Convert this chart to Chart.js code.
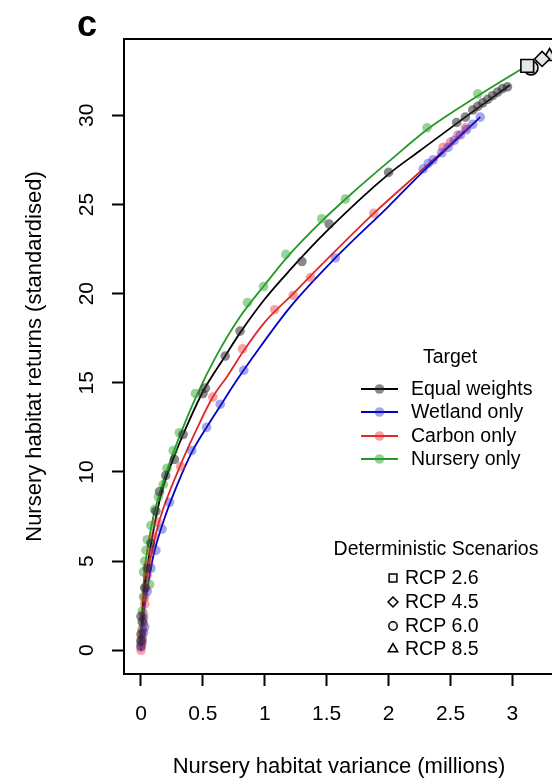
<!DOCTYPE html>
<html>
<head>
<meta charset="utf-8">
<script src="https://cdn.jsdelivr.net/npm/chart.js@4/dist/chart.umd.min.js"></script>
<style>
  html, body { margin: 0; padding: 0; background: #fff; overflow: hidden; }
  #wrap { position: relative; width: 552px; height: 784px; overflow: hidden; }
  #grafico { display: block; }
</style>
</head>
<body>
<div id="wrap"><canvas id="grafico" width="560" height="784"></canvas></div>
<script>
// Fitted curves (variance in millions, standardised returns)
const equalX    = [0, 0.005, 0.015, 0.03, 0.06, 0.1, 0.15, 0.2, 0.27, 0.34, 0.5, 0.68, 0.8, 1.0, 1.2, 1.5, 2.0, 2.25, 2.6, 2.98];
const equalY    = [0, 1.2, 2.4, 3.6, 5.1, 6.7, 8.4, 9.6, 10.9, 12.1, 14.5, 16.5, 17.8, 19.7, 21.3, 23.5, 26.7, 28.0, 29.8, 31.7];
const wetlandX  = [0, 0.005, 0.015, 0.03, 0.06, 0.1, 0.19, 0.3, 0.41, 0.53, 0.64, 0.76, 0.9, 1.2, 1.57, 2.0, 2.3, 2.74];
const wetlandY  = [0, 0.8, 1.6, 2.5, 3.8, 5.3, 7.4, 9.4, 11.1, 12.5, 13.7, 15.0, 16.4, 19.2, 22.0, 24.9, 27.0, 29.9];
const carbonX   = [0, 0.005, 0.015, 0.03, 0.06, 0.1, 0.15, 0.32, 0.45, 0.58, 0.7, 0.82, 1.0, 1.23, 1.37, 1.88, 2.2, 2.44, 2.66];
const carbonY   = [0, 1.0, 2.0, 3.0, 4.5, 5.9, 7.3, 10.4, 12.4, 14.2, 15.4, 16.7, 18.4, 20.0, 21.0, 24.5, 26.5, 28.0, 29.4];
const nurseryX  = [0, 0.005, 0.015, 0.03, 0.06, 0.1, 0.15, 0.2, 0.3, 0.45, 0.6, 0.8, 1.0, 1.2, 1.45, 1.7, 2.0, 2.33, 2.7, 3.12];
const nurseryY  = [0, 1.5, 3.0, 4.5, 6.0, 7.5, 8.8, 9.9, 11.8, 14.3, 16.4, 18.7, 20.5, 22.2, 24.0, 25.6, 27.4, 29.3, 31.0, 32.8];

// Simulated portfolios per target
const equalPts = [[0.0,0.5],[0.0,0.9],[0.01,1.6],[0.0,1.9],[0.03,3.5],[0.05,4.6],[0.08,6.0],[0.12,7.8],[0.15,8.9],[0.2,9.8],[0.27,10.7],
  [0.34,12.1],[0.5,14.4],[0.52,14.7],[0.68,16.5],[0.8,17.9],[1.3,21.8],[1.52,23.9],[2.0,26.8],[2.55,29.6],[2.62,29.9],[2.68,30.3],
  [2.72,30.5],[2.76,30.7],[2.8,30.9],[2.84,31.1],[2.88,31.3],[2.92,31.5],[2.96,31.6]];
const wetlandPts = [[0.0,0.2],[0.01,0.6],[0.02,1.0],[0.03,1.3],[0.02,1.8],[0.05,3.3],[0.08,4.6],[0.12,5.6],[0.17,6.8],[0.23,8.3],[0.41,11.2],
  [0.53,12.5],[0.64,13.8],[0.83,15.7],[1.57,22.0],[2.28,27.0],[2.32,27.3],[2.36,27.5],[2.43,27.9],[2.48,28.2],[2.53,28.6],[2.58,28.9],
  [2.63,29.2],[2.68,29.5],[2.74,29.9]];
const carbonPts = [[0.0,0.0],[0.0,0.2],[0.01,0.4],[0.0,0.6],[0.01,0.8],[0.01,1.1],[0.02,1.5],[0.02,2.0],[0.03,2.6],[0.03,3.0],[0.04,3.5],
  [0.05,4.2],[0.06,4.8],[0.08,5.5],[0.1,6.4],[0.13,7.2],[0.32,10.3],[0.58,14.2],[0.82,16.9],[1.08,19.1],[1.23,19.9],[1.37,20.9],
  [1.88,24.5],[2.44,28.2],[2.5,28.5],[2.56,28.9],[2.62,29.3]];
const nurseryPts = [[0.0,0.3],[0.01,1.2],[0.01,2.2],[0.02,3.0],[0.02,4.4],[0.03,5.0],[0.04,5.6],[0.05,6.2],[0.07,3.7],[0.08,7.0],[0.11,7.9],
  [0.14,8.6],[0.18,9.3],[0.21,10.2],[0.26,11.2],[0.31,12.2],[0.44,14.4],[0.86,19.5],[0.99,20.4],[1.17,22.2],[1.46,24.2],[1.65,25.3],
  [2.31,29.3],[2.72,31.2]];

// Deterministic scenarios
const rcp26 = [3.12, 32.77];
const rcp45 = [3.24, 33.16];
const rcp60 = [3.15, 32.66];
const rcp85 = [3.30, 33.3];

const xTicks = [0, 0.5, 1, 1.5, 2, 2.5, 3];
const xTickLabels = ['0', '0.5', '1', '1.5', '2', '2.5', '3'];
const yTicks = [0, 5, 10, 15, 20, 25, 30];
const yTickLabels = ['0', '5', '10', '15', '20', '25', '30'];

const targetNames = ['Equal weights', 'Wetland only', 'Carbon only', 'Nursery only'];
const scenarioNames = ['RCP 2.6', 'RCP 4.5', 'RCP 6.0', 'RCP 8.5'];

const FONT = '"Liberation Sans", Arial, sans-serif';
const lineColors = ['#000000', '#0000c8', '#e02828', '#229a22'];
const dotColors = ['rgba(40,40,40,0.55)', 'rgba(30,30,210,0.4)', 'rgba(235,50,50,0.45)', 'rgba(50,165,50,0.5)'];
const markerFill = '#e6e6e6';

const toXY = (xs, ys) => xs.map((x, i) => ({ x: x, y: ys[i] }));
const ptsXY = pts => pts.map(p => ({ x: p[0], y: p[1] }));

const curves = [toXY(equalX, equalY), toXY(wetlandX, wetlandY), toXY(carbonX, carbonY), toXY(nurseryX, nurseryY)];
const clouds = [ptsXY(equalPts), ptsXY(wetlandPts), ptsXY(carbonPts), ptsXY(nurseryPts)];
const scenarios = [rcp26, rcp45, rcp60, rcp85];
const scenarioStyles = ['rect', 'rectRot', 'circle', 'triangle'];
const scenarioRadius = [9, 7.5, 7, 8];

const datasets = [];
curves.forEach((c, i) => {
    datasets.push({
        type: 'line',
        label: targetNames[i],
        data: c,
        borderColor: lineColors[i],
        borderWidth: 1.8,
        pointRadius: 0,
        fill: false,
        cubicInterpolationMode: 'monotone',
        order: 2
    });
});
clouds.forEach((c, i) => {
    datasets.push({
        type: 'scatter',
        label: targetNames[i] + ' pts',
        data: c,
        backgroundColor: dotColors[i],
        borderWidth: 0,
        pointRadius: 4.8,
        order: 1
    });
});
scenarios.forEach((s, i) => {
    datasets.push({
        type: 'scatter',
        label: scenarioNames[i],
        data: [{ x: s[0], y: s[1] }],
        pointStyle: scenarioStyles[i],
        pointRadius: scenarioRadius[i],
        backgroundColor: markerFill,
        borderColor: '#000',
        borderWidth: 1.6,
        order: 0
    });
});

// box, panel letter and the two keys
const caixaLegenda = {
    id: 'caixaLegenda',
    afterDraw(chart) {
        const ctx = chart.ctx;
        const a = chart.chartArea;
        ctx.save();
        ctx.strokeStyle = '#000';
        ctx.lineWidth = 2;
        ctx.strokeRect(a.left, a.top, a.right - a.left, a.bottom - a.top);

        ctx.fillStyle = '#000';
        ctx.font = 'bold 36px ' + FONT;
        ctx.textAlign = 'left';
        ctx.textBaseline = 'alphabetic';
        ctx.fillText('c', 77, 36);

        // Target key
        ctx.font = '19.5px ' + FONT;
        ctx.textAlign = 'center';
        ctx.textBaseline = 'middle';
        ctx.fillText('Target', 450, 358);
        const rows = [389, 412, 436, 459];
        targetNames.forEach((n, i) => {
            const y = rows[i];
            ctx.strokeStyle = lineColors[i];
            ctx.lineWidth = 2;
            ctx.beginPath();
            ctx.moveTo(361, y);
            ctx.lineTo(398, y);
            ctx.stroke();
            ctx.fillStyle = dotColors[i];
            ctx.beginPath();
            ctx.arc(379.5, y, 4.8, 0, Math.PI * 2);
            ctx.fill();
            ctx.fillStyle = '#000';
            ctx.textAlign = 'left';
            ctx.fillText(n, 411, y + 1);
        });

        // Scenario key
        ctx.textAlign = 'center';
        ctx.fillText('Deterministic Scenarios', 436, 550);
        const srows = [578, 602, 626, 649];
        const keyRadius = [5.5, 5, 4.2, 5.5];
        scenarioNames.forEach((n, i) => {
            ctx.fillStyle = '#f2f2f2';
            ctx.strokeStyle = '#000';
            ctx.lineWidth = 1.5;
            Chart.helpers.drawPoint(ctx, { pointStyle: scenarioStyles[i], radius: keyRadius[i], borderWidth: 1.5 }, 393, srows[i]);
            ctx.fillStyle = '#000';
            ctx.textAlign = 'left';
            ctx.fillText(n, 405, srows[i] + 1);
        });
        ctx.restore();
    }
};

const canvas = document.getElementById('grafico');
const grafico = new Chart(canvas.getContext('2d'), {
    data: { datasets: datasets },
    options: {
        responsive: false,
        animation: false,
        layout: { autoPadding: false, padding: { top: 39, right: 6, left: 0, bottom: 0 } },
        plugins: {
            legend: { display: false },
            tooltip: { enabled: false }
        },
        scales: {
            x: {
                type: 'linear',
                min: -0.1373,
                max: 3.336,
                afterBuildTicks: scale => { scale.ticks = xTicks.map(v => ({ value: v })); },
                afterFit: scale => {
                    scale.height = 110;
                    scale.paddingLeft = 0;
                    scale.paddingRight = 0;
                },
                ticks: {
                    color: '#000',
                    font: { family: FONT, size: 21 },
                    padding: 16,
                    maxRotation: 0,
                    callback: (v, i) => xTickLabels[i]
                },
                grid: { drawOnChartArea: false, drawTicks: true, tickLength: 12, tickWidth: 2, tickColor: '#000' },
                border: { display: true, color: '#000', width: 2 },
                title: {
                    display: true,
                    text: 'Nursery habitat variance (millions)',
                    color: '#000',
                    font: { family: FONT, size: 22 },
                    padding: { top: 0, bottom: 4 }
                }
            },
            y: {
                type: 'linear',
                min: -1.33,
                max: 34.28,
                afterBuildTicks: scale => { scale.ticks = yTicks.map(v => ({ value: v })); },
                afterFit: scale => {
                    scale.width = 124;
                    scale.paddingTop = 0;
                    scale.paddingBottom = 0;
                },
                ticks: {
                    color: '#000',
                    font: { family: FONT, size: 21 },
                    padding: 13,
                    minRotation: 90,
                    maxRotation: 90,
                    crossAlign: 'center',
                    callback: (v, i) => yTickLabels[i]
                },
                grid: { drawOnChartArea: false, drawTicks: true, tickLength: 12, tickWidth: 2, tickColor: '#000' },
                border: { display: true, color: '#000', width: 2 },
                title: {
                    display: true,
                    text: 'Nursery habitat returns (standardised)',
                    color: '#000',
                    font: { family: FONT, size: 22 },
                    padding: { top: 22, bottom: 0 }
                }
            }
        }
    },
    plugins: [caixaLegenda]
});
</script>
</body>
</html>
